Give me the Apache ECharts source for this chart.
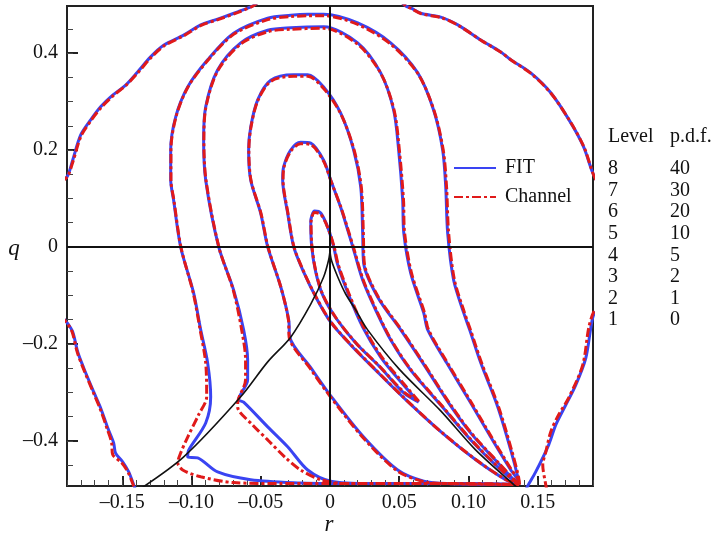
<!DOCTYPE html>
<html>
<head>
<meta charset="utf-8">
<script src="https://cdn.jsdelivr.net/npm/echarts@6/dist/echarts.min.js"></script>
<style>
  html, body { margin: 0; padding: 0; background: #fff; }
  #chart { width: 715px; height: 535px; }
</style>
</head>
<body>
<div id="chart"></div>
<script>
// Axis tick values
const xTicks = [-0.15, -0.10, -0.05, 0, 0.05, 0.10, 0.15];
const yTicks = [-0.4, -0.2, 0, 0.2, 0.4];

// Level table
const levels = ['8', '7', '6', '5', '4', '3', '2', '1'];
const pdfValues = ['40', '30', '20', '10', '5', '2', '1', '0'];

// Vieillefosse tail (two branches from the cusp)
const tailLeft = [[-0.136, -0.497], [-0.1057, -0.433], [-0.0645, -0.309], [-0.045, -0.237], [-0.0284, -0.186],
  [-0.0139, -0.118], [-0.0046, -0.062], [-0.001, -0.027], [0, -0.008]];
const tailRight = [[0, -0.008], [0.001, -0.027], [0.0056, -0.062], [0.0113, -0.097], [0.0186, -0.130],
  [0.0272, -0.171], [0.05, -0.252], [0.08, -0.338], [0.105, -0.418], [0.1331, -0.491], [0.136, -0.497]];

// ---- FIT contours ----
const fitOuterTL = [[-0.195, 0.135], [-0.1897, 0.146], [-0.1859, 0.179], [-0.1801, 0.231], [-0.1729, 0.262],
  [-0.1657, 0.289], [-0.157, 0.313], [-0.1476, 0.334], [-0.139, 0.361], [-0.1296, 0.392], [-0.1202, 0.416],
  [-0.1057, 0.437], [-0.0934, 0.458], [-0.0812, 0.470], [-0.0667, 0.485], [-0.0559, 0.497], [-0.05, 0.51]];
const fitOuterTR = [[0.050, 0.51], [0.0547, 0.497], [0.0583, 0.493], [0.0656, 0.482], [0.08, 0.474],
  [0.0923, 0.458], [0.1089, 0.427], [0.1234, 0.402], [0.1306, 0.386], [0.145, 0.359], [0.1595, 0.318],
  [0.174, 0.256], [0.1833, 0.206], [0.1898, 0.153], [0.195, 0.125]];
const fitOuterBL = [[-0.195, -0.14], [-0.1897, -0.157], [-0.1859, -0.175], [-0.1823, -0.216], [-0.178, -0.249],
  [-0.1707, -0.299], [-0.1657, -0.332], [-0.1606, -0.373], [-0.1563, -0.404], [-0.1549, -0.425],
  [-0.1498, -0.443], [-0.1454, -0.464], [-0.1418, -0.491], [-0.1404, -0.501]];
const fitOuterBR = [[0.1414, -0.501], [0.1428, -0.493], [0.1486, -0.464], [0.158, -0.408], [0.1631, -0.367],
  [0.1703, -0.326], [0.1775, -0.285], [0.1848, -0.229], [0.1884, -0.167], [0.1905, -0.14], [0.195, -0.125]];
const fitRingA = [[0.1363, -0.49], [0.1356, -0.474], [0.1306, -0.419], [0.1212, -0.330], [0.1089, -0.239],
  [0.1009, -0.171], [0.0966, -0.136], [0.0893, -0.068], [0.085, 0.029], [0.0836, 0.124], [0.0814, 0.200],
  [0.0749, 0.282], [0.0634, 0.359], [0.0438, 0.421], [0.02, 0.462], [-0.0046, 0.480], [-0.0161, 0.480],
  [-0.0284, 0.478], [-0.045, 0.472], [-0.0696, 0.441], [-0.0884, 0.386], [-0.1028, 0.330], [-0.1115, 0.268],
  [-0.1151, 0.200], [-0.1151, 0.138], [-0.113, 0.097], [-0.1079, 0.0], [-0.0985, -0.095], [-0.0934, -0.171],
  [-0.0884, -0.239], [-0.0862, -0.309], [-0.0898, -0.363], [-0.1021, -0.419], [-0.1028, -0.433],
  [-0.0956, -0.435], [-0.0812, -0.464], [-0.0573, -0.480], [-0.0212, -0.487], [0.0005, -0.488],
  [0.0872, -0.488], [0.1363, -0.49]];
const fitRingB = [[0.1363, -0.49], [0.1356, -0.480], [0.1306, -0.460], [0.1161, -0.392], [0.1017, -0.322],
  [0.0843, -0.239], [0.0706, -0.171], [0.0677, -0.136], [0.0583, -0.054], [0.0533, 0.029], [0.0525, 0.097],
  [0.0496, 0.200], [0.046, 0.282], [0.0366, 0.359], [0.02, 0.421], [-0.0046, 0.454], [-0.0284, 0.452],
  [-0.045, 0.447], [-0.0645, 0.421], [-0.0812, 0.365], [-0.0898, 0.289], [-0.0913, 0.221], [-0.0898, 0.138],
  [-0.0804, 0.0], [-0.0696, -0.089], [-0.0624, -0.171], [-0.0595, -0.233], [-0.0595, -0.274], [-0.066, -0.315],
  [-0.0624, -0.320], [-0.045, -0.371], [-0.0306, -0.412], [-0.0161, -0.460], [0.0005, -0.483],
  [0.0294, -0.488], [0.0872, -0.488], [0.1363, -0.49]];
const fitRingC = [[0.1363, -0.49], [0.1327, -0.480], [0.1212, -0.445], [0.1017, -0.384], [0.0858, -0.322],
  [0.067, -0.239], [0.0511, -0.171], [0.0344, -0.103], [0.0243, -0.033], [0.0236, 0.029], [0.0222, 0.124],
  [0.0171, 0.200], [0.0077, 0.276], [-0.0046, 0.330], [-0.0161, 0.355], [-0.0262, 0.355], [-0.0428, 0.344],
  [-0.0523, 0.303], [-0.0573, 0.247], [-0.0588, 0.200], [-0.0573, 0.138], [-0.0501, 0.070], [-0.045, 0.0],
  [-0.0356, -0.082], [-0.0298, -0.151], [-0.0291, -0.186], [-0.0139, -0.249], [0.0005, -0.307],
  [0.0243, -0.392], [0.0489, -0.460], [0.0677, -0.483], [0.085, -0.488], [0.1363, -0.49]];
const fitRingD = [[0.1363, -0.49], [0.1234, -0.460], [0.1017, -0.398], [0.08, -0.326], [0.0583, -0.254],
  [0.0439, -0.192], [0.033, -0.130], [0.0236, -0.068], [0.0171, -0.006], [0.0128, 0.035], [0.0077, 0.082],
  [0.0005, 0.138], [-0.0046, 0.179], [-0.0139, 0.214], [-0.0212, 0.216], [-0.0284, 0.200], [-0.0335, 0.165],
  [-0.0342, 0.138], [-0.0306, 0.070], [-0.0262, 0.0], [-0.019, -0.052], [-0.0103, -0.103], [0.0005, -0.155],
  [0.015, -0.202], [0.033, -0.254], [0.0547, -0.315], [0.08, -0.381], [0.1053, -0.439], [0.1269, -0.480],
  [0.1363, -0.49]];
const fitRingE = [[0.0641, -0.320], [0.0511, -0.278], [0.0366, -0.227], [0.0236, -0.165], [0.0135, -0.099],
  [0.0056, -0.037], [0.0027, 0.0], [-0.0017, 0.041], [-0.0067, 0.070], [-0.0111, 0.074], [-0.0139, 0.052],
  [-0.0132, 0.0], [-0.0103, -0.052], [-0.0053, -0.099], [0.0041, -0.146], [0.0186, -0.198], [0.0366, -0.249],
  [0.0533, -0.301], [0.0641, -0.320]];

// ---- Channel contours ----
const chOuterTL = [[-0.195, 0.133], [-0.1897, 0.145], [-0.1855, 0.178], [-0.1798, 0.229], [-0.1726, 0.261],
  [-0.1652, 0.288], [-0.1566, 0.312], [-0.1472, 0.334], [-0.1386, 0.360], [-0.1292, 0.391], [-0.1198, 0.415],
  [-0.1054, 0.436], [-0.0931, 0.457], [-0.0809, 0.469], [-0.0664, 0.484], [-0.0556, 0.497], [-0.05, 0.51]];
const chOuterTR = [[0.050, 0.51], [0.0549, 0.497], [0.0586, 0.492], [0.066, 0.481], [0.0803, 0.473],
  [0.0927, 0.457], [0.1093, 0.426], [0.1238, 0.401], [0.1311, 0.385], [0.1455, 0.357], [0.1599, 0.316],
  [0.1745, 0.254], [0.1838, 0.204], [0.1902, 0.150], [0.195, 0.122]];
const chOuterBL = [[-0.195, -0.142], [-0.1897, -0.158], [-0.1862, -0.176], [-0.1826, -0.217], [-0.1783, -0.250],
  [-0.171, -0.300], [-0.166, -0.334], [-0.161, -0.375], [-0.1578, -0.403], [-0.157, -0.428], [-0.1505, -0.445],
  [-0.1458, -0.465], [-0.1421, -0.491], [-0.1406, -0.501]];
const chOuterBR = [[0.1566, -0.501], [0.1559, -0.491], [0.1537, -0.449], [0.1559, -0.423], [0.1595, -0.381],
  [0.1652, -0.346], [0.1725, -0.311], [0.1826, -0.243], [0.1869, -0.167], [0.1905, -0.134], [0.195, -0.12]];
const chRingA = [[0.1368, -0.49], [0.1362, -0.474], [0.1312, -0.419], [0.1218, -0.330], [0.1095, -0.239],
  [0.1015, -0.171], [0.0972, -0.136], [0.0899, -0.068], [0.0857, 0.029], [0.0842, 0.124], [0.0818, 0.200],
  [0.0752, 0.281], [0.0636, 0.357], [0.0439, 0.418], [0.02, 0.459], [-0.0046, 0.477], [-0.0161, 0.477],
  [-0.0284, 0.475], [-0.045, 0.469], [-0.0694, 0.439], [-0.0882, 0.385], [-0.1026, 0.330], [-0.1113, 0.268],
  [-0.1149, 0.200], [-0.1149, 0.138], [-0.1128, 0.097], [-0.1077, 0.0], [-0.0988, -0.095], [-0.0938, -0.171],
  [-0.0898, -0.239], [-0.0891, -0.309], [-0.0949, -0.346], [-0.1028, -0.392], [-0.1079, -0.425],
  [-0.11, -0.445], [-0.1064, -0.460], [-0.0934, -0.474], [-0.0696, -0.486], [-0.0356, -0.488],
  [0.0872, -0.488], [0.1368, -0.49]];
const chRingB = [[0.1368, -0.49], [0.1362, -0.480], [0.1312, -0.460], [0.1167, -0.392], [0.1023, -0.322],
  [0.0849, -0.239], [0.0712, -0.171], [0.0683, -0.136], [0.0589, -0.054], [0.0539, 0.029], [0.0531, 0.097],
  [0.0501, 0.200], [0.0464, 0.281], [0.0369, 0.357], [0.02, 0.418], [-0.0046, 0.451], [-0.0284, 0.449],
  [-0.045, 0.444], [-0.0643, 0.419], [-0.081, 0.364], [-0.0896, 0.289], [-0.0911, 0.221], [-0.0896, 0.138],
  [-0.0803, 0.0], [-0.0699, -0.089], [-0.0638, -0.171], [-0.061, -0.233], [-0.061, -0.274], [-0.0667, -0.322],
  [-0.0667, -0.330], [-0.0559, -0.367], [-0.045, -0.398], [-0.032, -0.435], [-0.0212, -0.460],
  [-0.0067, -0.480], [0.0113, -0.488], [0.0872, -0.488], [0.1368, -0.49]];
const chRingC = [[0.1366, -0.49], [0.1332, -0.480], [0.1217, -0.445], [0.1022, -0.384], [0.0863, -0.322],
  [0.0675, -0.239], [0.0516, -0.171], [0.0349, -0.103], [0.0248, -0.033], [0.0241, 0.029], [0.0226, 0.124],
  [0.0174, 0.200], [0.0079, 0.274], [-0.0046, 0.327], [-0.0161, 0.352], [-0.0262, 0.352], [-0.0426, 0.342],
  [-0.0521, 0.302], [-0.0571, 0.247], [-0.0586, 0.200], [-0.0571, 0.138], [-0.0499, 0.070], [-0.0448, 0.0],
  [-0.0356, -0.082], [-0.03, -0.151], [-0.0295, -0.186], [-0.0142, -0.251], [0.0003, -0.309],
  [0.0241, -0.394], [0.0487, -0.462], [0.0677, -0.484], [0.085, -0.488], [0.1366, -0.49]];
const chRingD = [[0.1366, -0.49], [0.1238, -0.460], [0.1021, -0.398], [0.0804, -0.326], [0.0587, -0.254],
  [0.0443, -0.192], [0.0334, -0.130], [0.024, -0.068], [0.0175, -0.006], [0.0131, 0.035], [0.008, 0.081],
  [0.0007, 0.136], [-0.0045, 0.176], [-0.0139, 0.211], [-0.0212, 0.213], [-0.0282, 0.198], [-0.0332, 0.165],
  [-0.0339, 0.138], [-0.0304, 0.070], [-0.026, 0.0], [-0.0188, -0.052], [-0.0101, -0.103], [0.0007, -0.155],
  [0.0152, -0.202], [0.0332, -0.254], [0.0549, -0.315], [0.0802, -0.381], [0.1055, -0.439], [0.1271, -0.480],
  [0.1366, -0.49]];
const chRingE = [[0.0641, -0.318], [0.0514, -0.276], [0.0369, -0.225], [0.0239, -0.163], [0.0138, -0.097],
  [0.0059, -0.036], [0.003, 0.0], [-0.0015, 0.039], [-0.0066, 0.067], [-0.0111, 0.071], [-0.0137, 0.051],
  [-0.013, 0.0], [-0.0101, -0.052], [-0.0051, -0.099], [0.0043, -0.146], [0.0188, -0.198], [0.0368, -0.249],
  [0.0533, -0.299], [0.0641, -0.318]];

const fitContours = [fitOuterTL, fitOuterTR, fitOuterBL, fitOuterBR, fitRingA, fitRingB, fitRingC, fitRingD, fitRingE];
const channelContours = [chOuterTL, chOuterTR, chOuterBL, chOuterBR, chRingA, chRingB, chRingC, chRingD, chRingE];

const FONT = 'Liberation Serif';
const BLUE = '#3a44f2';
const RED = '#e01a1a';

function fmtTick(v, digits) {
  if (Math.abs(v) < 1e-9) return '0';
  const s = Math.abs(v).toFixed(digits);
  return v < 0 ? '\u2013' + s : s;
}

// minor tick positions
const xMinor = [];
for (let i = -19; i <= 19; i++) xMinor.push(+(i * 0.01).toFixed(2));
const yMinor = [];
for (let i = -9; i <= 9; i++) yMinor.push(+(i * 0.05).toFixed(2));

function contourSeries(name, data, color, dashed) {
  return {
    type: 'line', name: name, data: data,
    xAxisIndex: 0, yAxisIndex: 0,
    symbol: 'none', showSymbol: false, smooth: 0.3,
    clip: true, silent: true, animation: false,
    lineStyle: { color: color, width: 3, type: dashed ? [9, 3, 3, 3] : 'solid' },
    itemStyle: { color: color },
    z: dashed ? 4 : 3
  };
}

const series = [];
fitContours.forEach(c => series.push(contourSeries('FIT', c, BLUE, false)));
channelContours.forEach(c => series.push(contourSeries('Channel', c, RED, true)));
[tailLeft, tailRight].forEach((d, i) => series.push({
  type: 'line', name: 'tail', data: d, xAxisIndex: 0, yAxisIndex: 0,
  symbol: 'none', smooth: 0.3, clip: true, silent: true, animation: false,
  lineStyle: { color: '#111', width: 1.6 }, z: 5,
  markLine: i === 0 ? {
    silent: true, symbol: 'none', animation: false,
    label: { show: false },
    lineStyle: { color: '#111', width: 2, type: 'solid' },
    data: [{ xAxis: 0 }, { yAxis: 0 }]
  } : undefined
}));

// Level / p.d.f. table
const graphics = [];
const rowY0 = 169, rowStep = 21.6;
const tableFont = '20px "' + FONT + '"';
graphics.push({ type: 'text', x: 608, y: 137, style: { text: 'Level', font: tableFont, fill: '#111', verticalAlign: 'middle' } });
graphics.push({ type: 'text', x: 670, y: 137, style: { text: 'p.d.f.', font: tableFont, fill: '#111', verticalAlign: 'middle' } });
levels.forEach((lv, i) => {
  graphics.push({ type: 'text', x: 608, y: rowY0 + i * rowStep, style: { text: lv, font: tableFont, fill: '#111', verticalAlign: 'middle' } });
  graphics.push({ type: 'text', x: 670, y: rowY0 + i * rowStep, style: { text: pdfValues[i], font: tableFont, fill: '#111', verticalAlign: 'middle' } });
});
// axis names
graphics.push({ type: 'text', x: 14, y: 249, style: { text: 'q', font: 'italic 23px "' + FONT + '"', fill: '#111', align: 'center', verticalAlign: 'middle' } });
graphics.push({ type: 'text', x: 329, y: 525, style: { text: 'r', font: 'italic 23px "' + FONT + '"', fill: '#111', align: 'center', verticalAlign: 'middle' } });

const axisText = { fontFamily: FONT, fontSize: 20, color: '#111' };

const option = {
  backgroundColor: '#fff',
  animation: false,
  grid: { left: 67, top: 6, right: 122, bottom: 49, show: true, borderColor: '#222', borderWidth: 2, backgroundColor: 'transparent' },
  legend: {
    data: ['FIT', 'Channel'], orient: 'vertical', left: 448, top: 153,
    itemWidth: 42, itemHeight: 14, itemGap: 9,
    itemStyle: { opacity: 0 },
    textStyle: { fontFamily: FONT, fontSize: 20, color: '#111', padding: [0, 0, 0, 4] },
    selectedMode: false
  },
  xAxis: [
    {
      type: 'value', min: -0.19, max: 0.19, position: 'bottom',
      axisLine: { show: false, onZero: false }, splitLine: { show: false },
      axisTick: { show: true, inside: true, length: 10, customValues: xTicks, lineStyle: { color: '#222', width: 2 } },
      axisLabel: { show: true, customValues: xTicks, margin: 7, formatter: v => fmtTick(v, 2), ...axisText }
    },
    {
      type: 'value', min: -0.19, max: 0.19, position: 'bottom',
      axisLine: { show: false, onZero: false }, splitLine: { show: false },
      axisTick: { show: true, inside: true, length: 6, customValues: xMinor, lineStyle: { color: '#444', width: 1 } },
      axisLabel: { show: false }
    }
  ],
  yAxis: [
    {
      type: 'value', min: -0.493, max: 0.497, position: 'left',
      axisLine: { show: false, onZero: false }, splitLine: { show: false },
      axisTick: { show: true, inside: true, length: 11, customValues: yTicks, lineStyle: { color: '#222', width: 2 } },
      axisLabel: { show: true, customValues: yTicks, margin: 9, formatter: v => fmtTick(v, 1), ...axisText }
    },
    {
      type: 'value', min: -0.493, max: 0.497, position: 'left',
      axisLine: { show: false, onZero: false }, splitLine: { show: false },
      axisTick: { show: true, inside: true, length: 6, customValues: yMinor, lineStyle: { color: '#444', width: 1 } },
      axisLabel: { show: false }
    }
  ],
  graphic: graphics,
  series: series
};

const chart = echarts.init(document.getElementById('chart'), null, { renderer: 'canvas' });
chart.setOption(option);
</script>
</body>
</html>
